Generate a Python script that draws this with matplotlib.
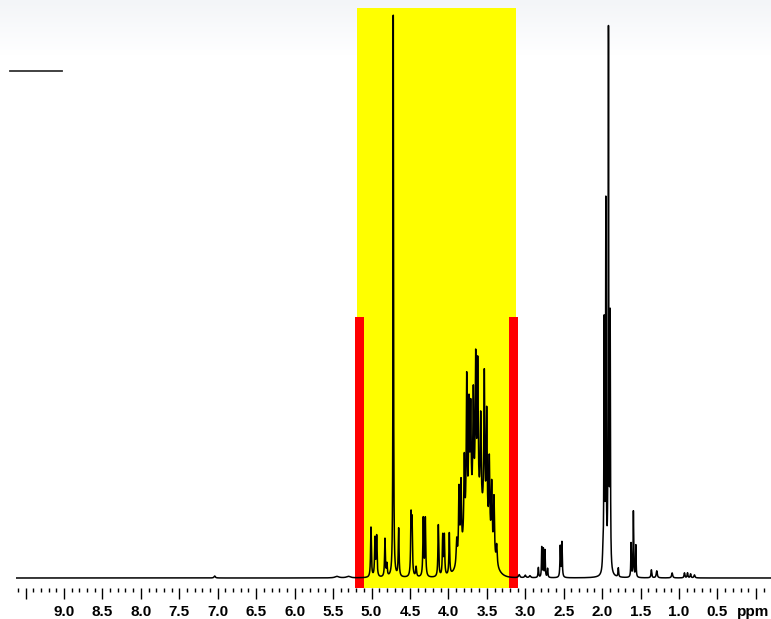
import numpy as np
import matplotlib.pyplot as plt
from matplotlib.lines import Line2D
from matplotlib.patches import Rectangle
from matplotlib.colors import LinearSegmentedColormap

# peak list: position (ppm), height (arb.), half width (ppm)
peak_ppm = [7.04, 5.45, 5.30,
            5.007, 4.955, 4.933, 4.825, 4.80, 4.717, 4.647, 4.486, 4.473, 4.42,
            4.327, 4.30, 4.131, 4.074, 4.053, 3.988,
            3.892, 3.862, 3.836, 3.793, 3.762, 3.732, 3.71, 3.676, 3.645, 3.619,
            3.58, 3.533, 3.502, 3.468, 3.437, 3.407, 3.372,
            3.08, 3.00, 2.94, 2.83, 2.786, 2.765, 2.743, 2.71, 2.545, 2.523,
            1.99, 1.974, 1.952, 1.918, 1.896, 1.79, 1.624, 1.594, 1.562,
            1.36, 1.29, 1.09, 0.93, 0.89, 0.85, 0.80]
peak_height = [2, 1.5, 1.5,
               50, 38, 40, 38, 12, 562, 48, 58, 52, 10,
               58, 58, 52, 40, 40, 42,
               25, 70, 70, 80, 150, 110, 100, 110, 140, 135,
               90, 145, 115, 80, 65, 60, 20,
               3, 2.5, 2, 10, 30, 28, 27, 9, 31, 35,
               15, 245, 365, 538, 250, 9, 34, 66, 32,
               8, 7, 5, 5, 5, 4, 3]
peak_width = [0.01, 0.03, 0.03,
              0.006, 0.006, 0.006, 0.006, 0.006, 0.004, 0.006, 0.006, 0.006, 0.007,
              0.006, 0.006, 0.006, 0.006, 0.006, 0.006,
              0.008, 0.007, 0.007, 0.007, 0.007, 0.007, 0.007, 0.007, 0.007, 0.007,
              0.007, 0.007, 0.007, 0.007, 0.007, 0.007, 0.008,
              0.01, 0.01, 0.01, 0.005, 0.004, 0.004, 0.004, 0.005, 0.005, 0.005,
              0.008, 0.004, 0.004, 0.004, 0.004, 0.005, 0.004, 0.004, 0.004,
              0.006, 0.008, 0.008, 0.006, 0.006, 0.006, 0.008]

# broad underlying hump of the sugar multiplet
hump_ppm = 3.63
hump_height = 70
hump_sigma = 0.13

# highlighted region and markers
region = (5.19, 3.12)
marker_left = (5.21, 5.10)
marker_right = (3.21, 3.10)

major_ticks = np.arange(9.5, -0.11, -0.5)
minor_ticks = np.arange(9.6, -0.2, -0.1)

ppm = np.linspace(9.62, -0.2, 40000)
spec = np.zeros_like(ppm)
for p, h, w in zip(peak_ppm, peak_height, peak_width):
    spec += h / (1 + ((ppm - p) / w) ** 2)
spec += hump_height * np.exp(-0.5 * ((ppm - hump_ppm) / hump_sigma) ** 2)

fig = plt.figure(figsize=(7.71, 6.19), dpi=100)
fig.patch.set_facecolor('white')

# faint grey fade at top of the window
bg = fig.add_axes([0, 1 - 55 / 619, 1, 55 / 619], zorder=-5)
grad = np.linspace(0, 1, 100).reshape(-1, 1)
bg.imshow(grad, aspect='auto', extent=[0, 1, 0, 1],
          cmap=LinearSegmentedColormap.from_list('fade', ['#f3f5f8', '#ffffff']))
bg.axis('off')

ax = fig.add_axes([16 / 771, 31 / 619, 755 / 771, 580 / 619])
ax.patch.set_alpha(0)
ax.set_xlim(9.624, -0.196)
ax.set_ylim(-10, 570)

ax.add_patch(Rectangle((region[1], -10), region[0] - region[1], 580,
                       facecolor='#ffff00', edgecolor='none', zorder=0))
for lo, hi in [marker_left, marker_right]:
    ax.add_patch(Rectangle((hi, -10), lo - hi, 271,
                           facecolor='#ff0000', edgecolor='none', zorder=1))

ax.plot(ppm, spec, color='black', lw=1.1, zorder=2)

for s in ax.spines.values():
    s.set_visible(False)
ax.set_yticks([])
ax.set_xticks(major_ticks)
ax.set_xticks(minor_ticks, minor=True)
labels = ['%.1f' % t if 0.4 < t < 9.4 else '' for t in major_ticks]
ax.set_xticklabels(labels, fontsize=11, fontweight='bold', family='Liberation Sans')
ax.tick_params(axis='x', which='major', direction='out', length=8, width=1, pad=4)
ax.tick_params(axis='x', which='minor', direction='out', length=3, width=1)
ax.annotate('ppm', xy=(1, 0), xycoords='axes fraction',
            xytext=(-1, -12.5), textcoords='offset points', ha='right', va='top',
            fontsize=11, fontweight='bold', family='Liberation Sans')

fig.add_artist(Line2D([10 / 771, 62 / 771], [1 - 71 / 619] * 2, color='#333333', lw=1.3))

fig.savefig('out.png', dpi=100)
